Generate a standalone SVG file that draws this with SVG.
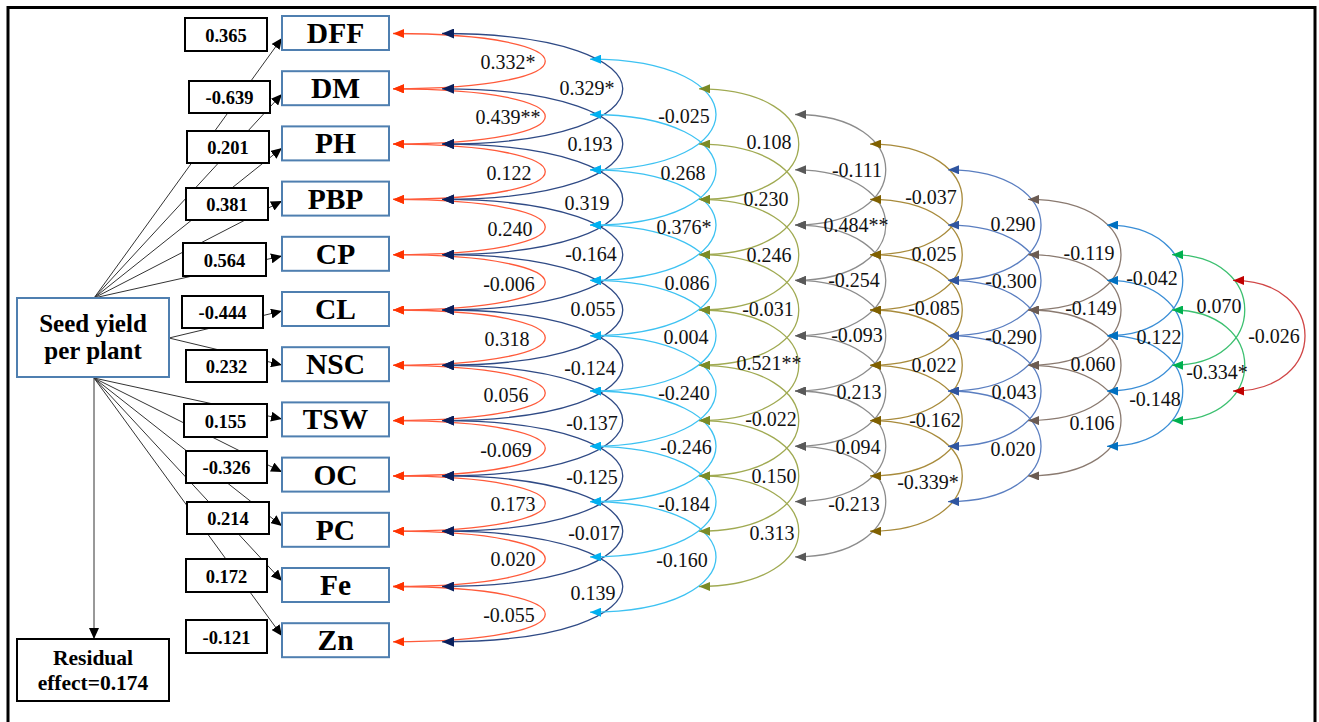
<svg xmlns="http://www.w3.org/2000/svg" width="1319" height="722" viewBox="0 0 1319 722">
<style>
.nb{fill:#fff;stroke:#4F7FB0;stroke-width:2}
.cb{fill:#fff;stroke:#000;stroke-width:2}
.nt{font-family:"Liberation Serif","Times New Roman",serif;font-weight:bold;font-size:29.5px;text-anchor:middle;fill:#000}
.ct{font-family:"Liberation Serif","Times New Roman",serif;font-weight:bold;font-size:18.5px;text-anchor:middle;fill:#000}
.st{font-family:"Liberation Serif","Times New Roman",serif;font-weight:bold;font-size:25px;text-anchor:middle;fill:#000}
.rt{font-family:"Liberation Serif","Times New Roman",serif;font-weight:bold;font-size:21.5px;text-anchor:middle;fill:#000}
.al{font-family:"Liberation Serif","Times New Roman",serif;font-size:20px;text-anchor:middle;fill:#111}
.pl{fill:none;stroke:#333;stroke-width:1;marker-end:url(#mk)}
.a{fill:none;stroke-width:1.3}
.c1{stroke:#FF5A3A;marker-start:url(#m1);marker-end:url(#m1)}
.c2{stroke:#2F4A85;marker-start:url(#m2);marker-end:url(#m2)}
.c3{stroke:#3DC2F2;marker-start:url(#m3);marker-end:url(#m3)}
.c4{stroke:#A0AA52;marker-start:url(#m4);marker-end:url(#m4)}
.c5{stroke:#8C8C8C;marker-start:url(#m5);marker-end:url(#m5)}
.c6{stroke:#A88B3C;marker-start:url(#m6);marker-end:url(#m6)}
.c7{stroke:#5A7EC0;marker-start:url(#m7);marker-end:url(#m7)}
.c8{stroke:#8A7A70;marker-start:url(#m8);marker-end:url(#m8)}
.c9{stroke:#3A8ED6;marker-start:url(#m9);marker-end:url(#m9)}
.c10{stroke:#3CC070;marker-start:url(#m10);marker-end:url(#m10)}
.c11{stroke:#D04545;marker-start:url(#m11);marker-end:url(#m11)}
</style>
<defs>
<marker id="mk" markerUnits="userSpaceOnUse" markerWidth="11" markerHeight="10" refX="11" refY="5" orient="auto"><path d="M0,0 L11,5 L0,10 z" fill="#000"/></marker>
<marker id="m1" markerUnits="userSpaceOnUse" markerWidth="11" markerHeight="9" refX="11" refY="4.5" orient="auto-start-reverse"><path d="M0,0 L11,4.5 L0,9 z" fill="#FF3300"/></marker>
<marker id="m2" markerUnits="userSpaceOnUse" markerWidth="12" markerHeight="10" refX="12" refY="5" orient="auto-start-reverse"><path d="M0,0 L12,5 L0,10 z" fill="#0A1F5C"/></marker>
<marker id="m3" markerUnits="userSpaceOnUse" markerWidth="11" markerHeight="9" refX="11" refY="4.5" orient="auto-start-reverse"><path d="M0,0 L11,4.5 L0,9 z" fill="#00B0F0"/></marker>
<marker id="m4" markerUnits="userSpaceOnUse" markerWidth="11" markerHeight="9" refX="11" refY="4.5" orient="auto-start-reverse"><path d="M0,0 L11,4.5 L0,9 z" fill="#7B8B26"/></marker>
<marker id="m5" markerUnits="userSpaceOnUse" markerWidth="11" markerHeight="9" refX="11" refY="4.5" orient="auto-start-reverse"><path d="M0,0 L11,4.5 L0,9 z" fill="#595959"/></marker>
<marker id="m6" markerUnits="userSpaceOnUse" markerWidth="11" markerHeight="9" refX="11" refY="4.5" orient="auto-start-reverse"><path d="M0,0 L11,4.5 L0,9 z" fill="#7F6000"/></marker>
<marker id="m7" markerUnits="userSpaceOnUse" markerWidth="11" markerHeight="9" refX="11" refY="4.5" orient="auto-start-reverse"><path d="M0,0 L11,4.5 L0,9 z" fill="#2F55A0"/></marker>
<marker id="m8" markerUnits="userSpaceOnUse" markerWidth="11" markerHeight="9" refX="11" refY="4.5" orient="auto-start-reverse"><path d="M0,0 L11,4.5 L0,9 z" fill="#6B5B52"/></marker>
<marker id="m9" markerUnits="userSpaceOnUse" markerWidth="11" markerHeight="9" refX="11" refY="4.5" orient="auto-start-reverse"><path d="M0,0 L11,4.5 L0,9 z" fill="#0070C0"/></marker>
<marker id="m10" markerUnits="userSpaceOnUse" markerWidth="11" markerHeight="9" refX="11" refY="4.5" orient="auto-start-reverse"><path d="M0,0 L11,4.5 L0,9 z" fill="#00B050"/></marker>
<marker id="m11" markerUnits="userSpaceOnUse" markerWidth="11" markerHeight="9" refX="11" refY="4.5" orient="auto-start-reverse"><path d="M0,0 L11,4.5 L0,9 z" fill="#C00000"/></marker>
</defs>
<rect x="0" y="0" width="1319" height="722" fill="#fff"/>
<path d="M8,730 V7.5 H1315 V730" fill="none" stroke="#000" stroke-width="3"/>

<g id="connectors">
<g id="paths">
<path class="pl" d="M94,298 L282,38"/>
<path class="pl" d="M94,298 L282,94"/>
<path class="pl" d="M94,298 L282,148"/>
<path class="pl" d="M94,298 L282,201"/>
<path class="pl" d="M94,298 L282,256"/>
<path class="pl" d="M169,338 L282,311"/>
<path class="pl" d="M169,338 L282,365"/>
<path class="pl" d="M94,378 L282,419"/>
<path class="pl" d="M94,378 L282,472"/>
<path class="pl" d="M94,378 L282,526"/>
<path class="pl" d="M94,378 L282,581"/>
<path class="pl" d="M94,378 L282,636"/>
<path class="pl" d="M94,378 L94,639"/>
</g>
<g id="arcs">
<path class="a c1" d="M393,33.5 C596,33.5 596,88.8 393,88.8"/>
<path class="a c1" d="M393,88.8 C596,88.8 596,144.1 393,144.1"/>
<path class="a c1" d="M393,144.1 C596,144.1 596,199.4 393,199.4"/>
<path class="a c1" d="M393,199.4 C596,199.4 596,254.7 393,254.7"/>
<path class="a c1" d="M393,254.7 C596,254.7 596,310 393,310"/>
<path class="a c1" d="M393,310 C596,310 596,365.3 393,365.3"/>
<path class="a c1" d="M393,365.3 C596,365.3 596,420.6 393,420.6"/>
<path class="a c1" d="M393,420.6 C596,420.6 596,475.9 393,475.9"/>
<path class="a c1" d="M393,475.9 C596,475.9 596,531.2 393,531.2"/>
<path class="a c1" d="M393,531.2 C596,531.2 596,586.5 393,586.5"/>
<path class="a c1" d="M393,586.5 C596,586.5 596,641.8 393,641.8"/>

<path class="a c2" d="M442,33.5 C683,33.5 683,144.1 442,144.1"/>
<path class="a c2" d="M442,88.8 C683,88.8 683,199.4 442,199.4"/>
<path class="a c2" d="M442,144.1 C683,144.1 683,254.7 442,254.7"/>
<path class="a c2" d="M442,199.4 C683,199.4 683,310 442,310"/>
<path class="a c2" d="M442,254.7 C683,254.7 683,365.3 442,365.3"/>
<path class="a c2" d="M442,310 C683,310 683,420.6 442,420.6"/>
<path class="a c2" d="M442,365.3 C683,365.3 683,475.9 442,475.9"/>
<path class="a c2" d="M442,420.6 C683,420.6 683,531.2 442,531.2"/>
<path class="a c2" d="M442,475.9 C683,475.9 683,586.5 442,586.5"/>
<path class="a c2" d="M442,531.2 C683,531.2 683,641.8 442,641.8"/>

<path class="a c3" d="M590,59.2 C758,59.2 758,169.8 590,169.8"/>
<path class="a c3" d="M590,114.5 C758,114.5 758,225.1 590,225.1"/>
<path class="a c3" d="M590,169.8 C758,169.8 758,280.4 590,280.4"/>
<path class="a c3" d="M590,225.1 C758,225.1 758,335.7 590,335.7"/>
<path class="a c3" d="M590,280.4 C758,280.4 758,391 590,391"/>
<path class="a c3" d="M590,335.7 C758,335.7 758,446.3 590,446.3"/>
<path class="a c3" d="M590,391 C758,391 758,501.6 590,501.6"/>
<path class="a c3" d="M590,446.3 C758,446.3 758,556.9 590,556.9"/>
<path class="a c3" d="M590,501.6 C758,501.6 758,612.2 590,612.2"/>

<path class="a c4" d="M699,88.8 C832,88.8 832,199.4 699,199.4"/>
<path class="a c4" d="M699,144.1 C832,144.1 832,254.7 699,254.7"/>
<path class="a c4" d="M699,199.4 C832,199.4 832,310 699,310"/>
<path class="a c4" d="M699,254.7 C832,254.7 832,365.3 699,365.3"/>
<path class="a c4" d="M699,310 C832,310 832,420.6 699,420.6"/>
<path class="a c4" d="M699,365.3 C832,365.3 832,475.9 699,475.9"/>
<path class="a c4" d="M699,420.6 C832,420.6 832,531.2 699,531.2"/>
<path class="a c4" d="M699,475.9 C832,475.9 832,586.5 699,586.5"/>

<path class="a c5" d="M795,114.5 C916,114.5 916,225.1 795,225.1"/>
<path class="a c5" d="M795,169.8 C916,169.8 916,280.4 795,280.4"/>
<path class="a c5" d="M795,225.1 C916,225.1 916,335.7 795,335.7"/>
<path class="a c5" d="M795,280.4 C916,280.4 916,391 795,391"/>
<path class="a c5" d="M795,335.7 C916,335.7 916,446.3 795,446.3"/>
<path class="a c5" d="M795,391 C916,391 916,501.6 795,501.6"/>
<path class="a c5" d="M795,446.3 C916,446.3 916,556.9 795,556.9"/>

<path class="a c6" d="M870,144.1 C993,144.1 993,254.7 870,254.7"/>
<path class="a c6" d="M870,199.4 C993,199.4 993,310 870,310"/>
<path class="a c6" d="M870,254.7 C993,254.7 993,365.3 870,365.3"/>
<path class="a c6" d="M870,310 C993,310 993,420.6 870,420.6"/>
<path class="a c6" d="M870,365.3 C993,365.3 993,475.9 870,475.9"/>
<path class="a c6" d="M870,420.6 C993,420.6 993,531.2 870,531.2"/>

<path class="a c7" d="M948,169.8 C1072,169.8 1072,280.4 948,280.4"/>
<path class="a c7" d="M948,225.1 C1072,225.1 1072,335.7 948,335.7"/>
<path class="a c7" d="M948,280.4 C1072,280.4 1072,391 948,391"/>
<path class="a c7" d="M948,335.7 C1072,335.7 1072,446.3 948,446.3"/>
<path class="a c7" d="M948,391 C1072,391 1072,501.6 948,501.6"/>

<path class="a c8" d="M1028,199.4 C1152,199.4 1152,310 1028,310"/>
<path class="a c8" d="M1028,254.7 C1152,254.7 1152,365.3 1028,365.3"/>
<path class="a c8" d="M1028,310 C1152,310 1152,420.6 1028,420.6"/>
<path class="a c8" d="M1028,365.3 C1152,365.3 1152,475.9 1028,475.9"/>

<path class="a c9" d="M1107,225.1 C1208,225.1 1208,335.7 1107,335.7"/>
<path class="a c9" d="M1107,280.4 C1208,280.4 1208,391 1107,391"/>
<path class="a c9" d="M1107,335.7 C1208,335.7 1208,446.3 1107,446.3"/>

<path class="a c10" d="M1172,254.7 C1269,254.7 1269,365.3 1172,365.3"/>
<path class="a c10" d="M1172,310 C1269,310 1269,420.6 1172,420.6"/>

<path class="a c11" d="M1233,280.4 C1329,280.4 1329,391 1233,391"/>
</g>
<g id="arc-labels" class="al">
<text x="508" y="68.5">0.332*</text>
<text x="508" y="123.5">0.439**</text>
<text x="509" y="179.5">0.122</text>
<text x="510" y="235.5">0.240</text>
<text x="509" y="290.5">-0.006</text>
<text x="507" y="345.5">0.318</text>
<text x="506" y="401.5">0.056</text>
<text x="506" y="456.5">-0.069</text>
<text x="513" y="510.5">0.173</text>
<text x="513" y="565.5">0.020</text>
<text x="509" y="621.5">-0.055</text>

<text x="587" y="94.5">0.329*</text>
<text x="590" y="150.5">0.193</text>
<text x="587" y="209.5">0.319</text>
<text x="591" y="260.5">-0.164</text>
<text x="593" y="315.5">0.055</text>
<text x="590" y="374.5">-0.124</text>
<text x="592" y="429.5">-0.137</text>
<text x="592" y="483.5">-0.125</text>
<text x="594" y="539.5">-0.017</text>
<text x="593" y="599.5">0.139</text>

<text x="684" y="122.5">-0.025</text>
<text x="683" y="179.5">0.268</text>
<text x="684" y="233.5">0.376*</text>
<text x="687" y="289.5">0.086</text>
<text x="686" y="343.5">0.004</text>
<text x="684" y="399.5">-0.240</text>
<text x="686" y="453.5">-0.246</text>
<text x="684" y="510.5">-0.184</text>
<text x="682" y="566.5">-0.160</text>

<text x="769" y="148.5">0.108</text>
<text x="766" y="205.5">0.230</text>
<text x="769" y="261.5">0.246</text>
<text x="768" y="315.5">-0.031</text>
<text x="769" y="369.5">0.521**</text>
<text x="771" y="425.5">-0.022</text>
<text x="774" y="482.5">0.150</text>
<text x="772" y="539.5">0.313</text>

<text x="857" y="176.5">-0.111</text>
<text x="856" y="231.5">0.484**</text>
<text x="854" y="286.5">-0.254</text>
<text x="857" y="341.5">-0.093</text>
<text x="859" y="398.5">0.213</text>
<text x="858" y="453.5">0.094</text>
<text x="854" y="510.5">-0.213</text>

<text x="931" y="203.5">-0.037</text>
<text x="934" y="260.5">0.025</text>
<text x="934" y="314.5">-0.085</text>
<text x="934" y="371.5">0.022</text>
<text x="935" y="426.5">-0.162</text>
<text x="928" y="488.5">-0.339*</text>

<text x="1013" y="230.5">0.290</text>
<text x="1011" y="287.5">-0.300</text>
<text x="1011" y="343.5">-0.290</text>
<text x="1014" y="398.5">0.043</text>
<text x="1013" y="455.5">0.020</text>

<text x="1089" y="259.5">-0.119</text>
<text x="1091" y="314.5">-0.149</text>
<text x="1093" y="370.5">0.060</text>
<text x="1092" y="429.5">0.106</text>

<text x="1152" y="284.5">-0.042</text>
<text x="1159" y="343.5">0.122</text>
<text x="1155" y="405.5">-0.148</text>

<text x="1219" y="312.5">0.070</text>
<text x="1217" y="378.5">-0.334*</text>

<text x="1274" y="342.5">-0.026</text>
</g>
</g>

<g id="coef-DFF"><rect class="cb" x="185" y="18" width="82" height="33"/><text class="ct" x="226" y="41.5">0.365</text></g>
<g id="coef-DM"><rect class="cb" x="189" y="81" width="81" height="32"/><text class="ct" x="229.5" y="104">-0.639</text></g>
<g id="coef-PH"><rect class="cb" x="187" y="131" width="82" height="32"/><text class="ct" x="228" y="154">0.201</text></g>
<g id="coef-PBP"><rect class="cb" x="186" y="188" width="82" height="32"/><text class="ct" x="227" y="211">0.381</text></g>
<g id="coef-CP"><rect class="cb" x="183" y="243" width="83" height="33"/><text class="ct" x="224.5" y="266.5">0.564</text></g>
<g id="coef-CL"><rect class="cb" x="182" y="296" width="81" height="32"/><text class="ct" x="222.5" y="319">-0.444</text></g>
<g id="coef-NSC"><rect class="cb" x="186" y="350" width="81" height="32"/><text class="ct" x="226.5" y="373">0.232</text></g>
<g id="coef-TSW"><rect class="cb" x="184" y="404" width="83" height="33"/><text class="ct" x="225.5" y="427.5">0.155</text></g>
<g id="coef-OC"><rect class="cb" x="186" y="451" width="81" height="32"/><text class="ct" x="226.5" y="474">-0.326</text></g>
<g id="coef-PC"><rect class="cb" x="187" y="502" width="82" height="32"/><text class="ct" x="228" y="525">0.214</text></g>
<g id="coef-Fe"><rect class="cb" x="186" y="559" width="81" height="33"/><text class="ct" x="226.5" y="582.5">0.172</text></g>
<g id="coef-Zn"><rect class="cb" x="186" y="620" width="81" height="33"/><text class="ct" x="226.5" y="643.5">-0.121</text></g>

<g id="node-DFF"><rect class="nb" x="282" y="16" width="107" height="34"/><text class="nt" x="335.5" y="43">DFF</text></g>
<g id="node-DM"><rect class="nb" x="282" y="71.2" width="107" height="34"/><text class="nt" x="335.5" y="98.2">DM</text></g>
<g id="node-PH"><rect class="nb" x="282" y="126.4" width="107" height="34"/><text class="nt" x="335.5" y="153.4">PH</text></g>
<g id="node-PBP"><rect class="nb" x="282" y="181.6" width="107" height="34"/><text class="nt" x="335.5" y="208.6">PBP</text></g>
<g id="node-CP"><rect class="nb" x="282" y="236.8" width="107" height="34"/><text class="nt" x="335.5" y="263.8">CP</text></g>
<g id="node-CL"><rect class="nb" x="282" y="292" width="107" height="34"/><text class="nt" x="335.5" y="319">CL</text></g>
<g id="node-NSC"><rect class="nb" x="282" y="347.2" width="107" height="34"/><text class="nt" x="335.5" y="374.2">NSC</text></g>
<g id="node-TSW"><rect class="nb" x="282" y="402.4" width="107" height="34"/><text class="nt" x="335.5" y="429.4">TSW</text></g>
<g id="node-OC"><rect class="nb" x="282" y="457.6" width="107" height="34"/><text class="nt" x="335.5" y="484.6">OC</text></g>
<g id="node-PC"><rect class="nb" x="282" y="512.8" width="107" height="34"/><text class="nt" x="335.5" y="539.8">PC</text></g>
<g id="node-Fe"><rect class="nb" x="282" y="568" width="107" height="34"/><text class="nt" x="335.5" y="595">Fe</text></g>
<g id="node-Zn"><rect class="nb" x="282" y="623.2" width="107" height="34"/><text class="nt" x="335.5" y="650.2">Zn</text></g>

<g id="node-seed-yield"><rect class="nb" x="17" y="298" width="152" height="79"/><text class="st" x="93" y="332">Seed yield</text><text class="st" x="93" y="359">per plant</text></g>
<g id="node-residual"><rect class="cb" x="17" y="639" width="152" height="62"/><text class="rt" x="93" y="665">Residual</text><text class="rt" x="93" y="690">effect=0.174</text></g>
</svg>
